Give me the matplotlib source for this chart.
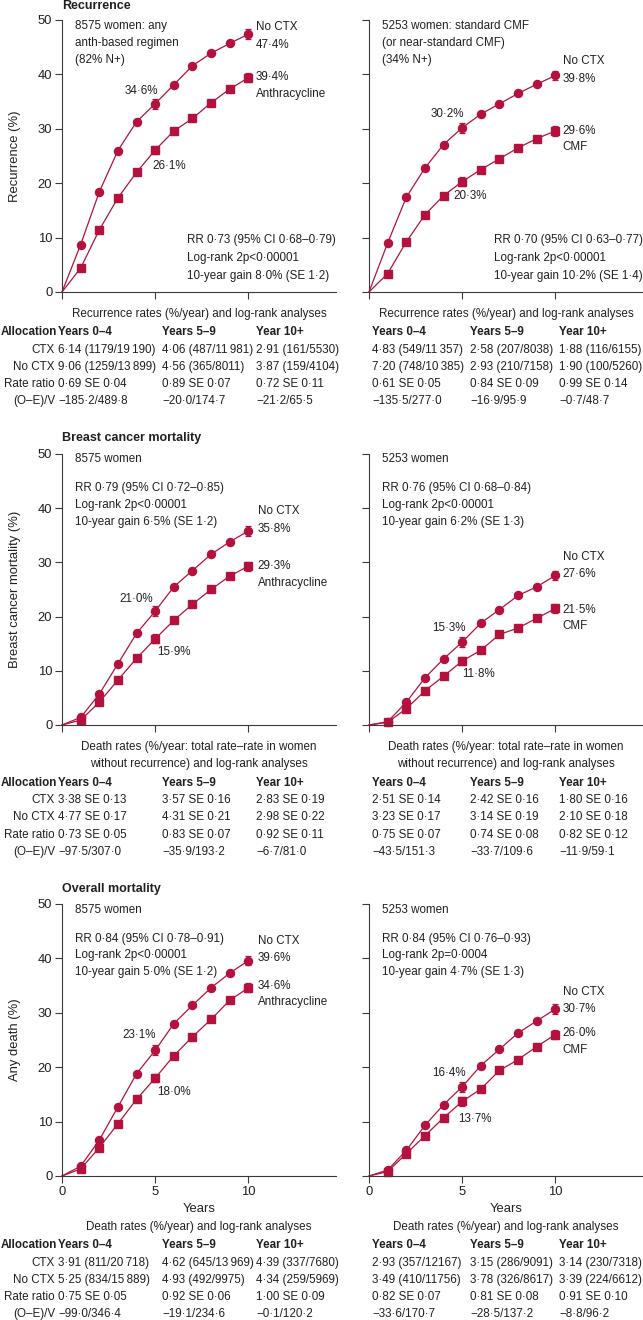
import matplotlib
matplotlib.use("Agg")
import matplotlib.pyplot as plt

plt.rcParams['font.family'] = ['Liberation Sans', 'DejaVu Sans']

RED = '#b3123e'
INK = '#231f20'
FS = 8.4

W, H = 643, 1320

years = list(range(11))
err_years = [5, 10]

# recurrence
rec_anth_noctx = [0, 8.7, 18.4, 26.0, 31.3, 34.6, 38.1, 41.6, 43.9, 45.7, 47.4]
rec_anth_ctx = [0, 4.4, 11.4, 17.3, 22.0, 26.1, 29.6, 31.9, 34.8, 37.3, 39.4]
rec_cmf_noctx = [0, 9.0, 17.4, 22.8, 27.1, 30.2, 32.7, 34.6, 36.5, 38.2, 39.8]
rec_cmf_ctx = [0, 3.4, 9.2, 14.2, 17.7, 20.3, 22.5, 24.5, 26.5, 28.2, 29.6]
# breast cancer mortality
bcm_anth_noctx = [0, 1.4, 5.7, 11.3, 16.9, 21.0, 25.5, 28.5, 31.5, 33.8, 35.8]
bcm_anth_ctx = [0, 0.9, 4.2, 8.3, 12.3, 15.9, 19.3, 22.3, 25.0, 27.5, 29.3]
bcm_cmf_noctx = [0, 0.6, 4.2, 8.7, 12.2, 15.3, 18.8, 21.3, 23.9, 25.5, 27.6]
bcm_cmf_ctx = [0, 0.5, 3.0, 6.3, 9.0, 11.8, 13.8, 16.7, 17.9, 19.7, 21.5]
# overall mortality
om_anth_noctx = [0, 1.8, 6.6, 12.7, 18.8, 23.1, 28.0, 31.4, 34.6, 37.3, 39.6]
om_anth_ctx = [0, 1.3, 5.2, 9.6, 14.1, 18.0, 22.1, 25.6, 28.8, 32.3, 34.6]
om_cmf_noctx = [0, 1.1, 4.7, 9.3, 13.1, 16.4, 20.3, 23.3, 26.3, 28.5, 30.7]
om_cmf_ctx = [0, 0.8, 4.1, 7.4, 10.7, 13.7, 16.0, 19.4, 21.4, 23.8, 26.0]

# standard errors at years 5 and 10
se_noctx = [0.9, 0.9]
se_ctx = [0.8, 0.85]

col_heads = ["Years 0–4", "Years 5–9", "Year 10+"]
row_heads = ["CTX", "No CTX", "Rate ratio", "(O–E)/V"]

rec_anth_rows = [
    ["6·14 (1179/19\u2009190)", "4·06 (487/11\u2009981)", "2·91 (161/5530)"],
    ["9·06 (1259/13\u2009899)", "4·56 (365/8011)", "3·87 (159/4104)"],
    ["0·69 SE 0·04", "0·89 SE 0·07", "0·72 SE 0·11"],
    ["−185·2/489·8", "−20·0/174·7", "−21·2/65·5"],
]
rec_cmf_rows = [
    ["4·83 (549/11\u2009357)", "2·58 (207/8038)", "1·88 (116/6155)"],
    ["7·20 (748/10\u2009385)", "2·93 (210/7158)", "1·90 (100/5260)"],
    ["0·61 SE 0·05", "0·84 SE 0·09", "0·99 SE 0·14"],
    ["−135·5/277·0", "−16·9/95·9", "−0·7/48·7"],
]
bcm_anth_rows = [
    ["3·38 SE 0·13", "3·57 SE 0·16", "2·83 SE 0·19"],
    ["4·77 SE 0·17", "4·31 SE 0·21", "2·98 SE 0·22"],
    ["0·73 SE 0·05", "0·83 SE 0·07", "0·92 SE 0·11"],
    ["−97·5/307·0", "−35·9/193·2", "−6·7/81·0"],
]
bcm_cmf_rows = [
    ["2·51 SE 0·14", "2·42 SE 0·16", "1·80 SE 0·16"],
    ["3·23 SE 0·17", "3·14 SE 0·19", "2·10 SE 0·18"],
    ["0·75 SE 0·07", "0·74 SE 0·08", "0·82 SE 0·12"],
    ["−43·5/151·3", "−33·7/109·6", "−11·9/59·1"],
]
om_anth_rows = [
    ["3·91 (811/20\u2009718)", "4·62 (645/13\u2009969)", "4·39 (337/7680)"],
    ["5·25 (834/15\u2009889)", "4·93 (492/9975)", "4·34 (259/5969)"],
    ["0·75 SE 0·05", "0·92 SE 0·06", "1·00 SE 0·09"],
    ["−99·0/346·4", "−19·1/234·6", "−0·1/120·2"],
]
om_cmf_rows = [
    ["2·93 (357/12167)", "3·15 (286/9091)", "3·14 (230/7318)"],
    ["3·49 (410/11756)", "3·78 (326/8617)", "3·39 (224/6612)"],
    ["0·82 SE 0·07", "0·81 SE 0·08", "0·91 SE 0·10"],
    ["−33·6/170·7", "−28·5/137·2", "−8·8/96·2"],
]


def fx(px):
    return px / W


def fy(py):
    return 1 - py / H


def make_axes(fig, x0, y0, y50):
    ax = fig.add_axes([fx(x0), fy(y0), 274 / W, (y0 - y50) / H])
    ax.set_xlim(0, 14.7)
    ax.set_ylim(0, 50)
    for s in ['top', 'right']:
        ax.spines[s].set_visible(False)
    for s in ['left', 'bottom']:
        ax.spines[s].set_color('#3a3a3a')
        ax.spines[s].set_linewidth(0.8)
    ax.spines['left'].set_bounds(0, 50)
    ax.set_xticks([0, 5, 10])
    ax.set_yticks([0, 10, 20, 30, 40, 50])
    ax.tick_params(direction='out', length=5, width=0.8, color='#3a3a3a',
                   labelsize=FS + 1, labelcolor=INK, pad=2)
    ax.patch.set_alpha(0)
    return ax


def draw_curves(ax, noctx, ctx):
    ax.plot(years, noctx, color=RED, lw=0.9, marker='o', ms=5.8,
            markevery=list(range(1, 11)), clip_on=False)
    ax.plot(years, ctx, color=RED, lw=0.9, marker='s', ms=5.2,
            markevery=list(range(1, 11)), clip_on=False)
    ax.errorbar(err_years, [noctx[5], noctx[10]], yerr=se_noctx, fmt='none',
                ecolor=RED, elinewidth=0.9, capsize=2, capthick=0.9)
    ax.errorbar(err_years, [ctx[5], ctx[10]], yerr=se_ctx, fmt='none',
                ecolor=RED, elinewidth=0.9, capsize=2, capthick=0.9)


def txt(ax, x, y, s, **kw):
    ax.text(x, y, s, fontsize=FS, color=INK, va='center', **kw)


def draw_table(fig, y_rows, cols, rows, labels):
    for j, head in enumerate(col_heads):
        fig.text(fx(cols[j]), fy(y_rows[0]), head, fontsize=FS, color=INK,
                 fontweight='bold', va='center', ha='left')
    if labels:
        fig.text(fx(1), fy(y_rows[0]), "Allocation", fontsize=FS, color=INK,
                 fontweight='bold', va='center', ha='left')
    for i, row in enumerate(rows):
        if labels:
            fig.text(fx(55), fy(y_rows[i + 1]), row_heads[i], fontsize=FS,
                     color=INK, va='center', ha='right')
        for j, cell in enumerate(row):
            fig.text(fx(cols[j]), fy(y_rows[i + 1]), cell, fontsize=FS,
                     color=INK, va='center', ha='left')


fig = plt.figure(figsize=(W / 100, H / 100), dpi=100)

LX, RX = 62, 369
left_cols = [58, 162, 256]
right_cols = [372, 470, 559]

# ---------------- Recurrence ----------------
fig.text(fx(62), fy(6), "Recurrence", fontsize=FS + 0.6, fontweight='bold',
         color=INK, va='center')
ax1 = make_axes(fig, LX, 292, 20)
ax2 = make_axes(fig, RX, 292, 20)
draw_curves(ax1, rec_anth_noctx, rec_anth_ctx)
draw_curves(ax2, rec_cmf_noctx, rec_cmf_ctx)
for ax in (ax1, ax2):
    ax.set_xticklabels([])
ax2.set_yticklabels([])
ax1.set_ylabel("Recurrence (%)", fontsize=FS + 1, color=INK)
ax1.yaxis.set_label_coords((21 - LX) / 274, 0.5)

for k, line in enumerate(["8575 women: any", "anth-based regimen", "(82% N+)"]):
    txt(ax1, 0.7, 48.9 - 3.1 * k, line, ha='left')
for k, line in enumerate(["5253 women: standard CMF", "(or near-standard CMF)", "(34% N+)"]):
    txt(ax2, 0.7, 48.9 - 3.1 * k, line, ha='left')
for ax, lines in ((ax1, ["RR 0·73 (95% CI 0·68–0·79)", "Log-rank 2p<0·00001",
                         "10-year gain 8·0% (SE 1·2)"]),
                  (ax2, ["RR 0·70 (95% CI 0·63–0·77)", "Log-rank 2p<0·00001",
                         "10-year gain 10·2% (SE 1·4)"])):
    for k, line in enumerate(lines):
        txt(ax, 6.7, 9.6 - 3.3 * k, line, ha='left')
txt(ax1, 10.4, 48.7, "No CTX", ha='left')
txt(ax1, 10.4, 45.4, "47·4%", ha='left')
txt(ax1, 10.4, 39.5, "39·4%", ha='left')
txt(ax1, 10.4, 36.4, "Anthracycline", ha='left')
txt(ax1, 4.25, 37.0, "34·6%", ha='center')
txt(ax1, 5.75, 23.2, "26·1%", ha='center')
txt(ax2, 10.4, 42.5, "No CTX", ha='left')
txt(ax2, 10.4, 39.2, "39·8%", ha='left')
txt(ax2, 10.4, 29.6, "29·6%", ha='left')
txt(ax2, 10.4, 26.7, "CMF", ha='left')
txt(ax2, 4.2, 32.7, "30·2%", ha='center')
txt(ax2, 5.4, 17.7, "20·3%", ha='center')

for cx in (199, 506):
    fig.text(fx(cx), fy(314), "Recurrence rates (%/year) and log-rank analyses",
             fontsize=FS, color=INK, ha='center', va='center')
rows_y = [332, 350, 367, 384, 401]
draw_table(fig, rows_y, left_cols, rec_anth_rows, True)
draw_table(fig, rows_y, right_cols, rec_cmf_rows, False)

# ---------------- Breast cancer mortality ----------------
fig.text(fx(62), fy(438), "Breast cancer mortality", fontsize=FS + 0.6,
         fontweight='bold', color=INK, va='center')
ax3 = make_axes(fig, LX, 725, 454)
ax4 = make_axes(fig, RX, 725, 454)
draw_curves(ax3, bcm_anth_noctx, bcm_anth_ctx)
draw_curves(ax4, bcm_cmf_noctx, bcm_cmf_ctx)
for ax in (ax3, ax4):
    ax.set_xticklabels([])
ax4.set_yticklabels([])
ax3.set_ylabel("Breast cancer mortality (%)", fontsize=FS + 1, color=INK)
ax3.yaxis.set_label_coords((21 - LX) / 274, 0.5)

txt(ax3, 0.7, 49.1, "8575 women", ha='left')
txt(ax4, 0.7, 49.1, "5253 women", ha='left')
for ax, lines in ((ax3, ["RR 0·79 (95% CI 0·72–0·85)", "Log-rank 2p<0·00001",
                         "10-year gain 6·5% (SE 1·2)"]),
                  (ax4, ["RR 0·76 (95% CI 0·68–0·84)", "Log-rank 2p<0·00001",
                         "10-year gain 6·2% (SE 1·3)"])):
    for k, line in enumerate(lines):
        txt(ax, 0.7, 43.7 - 3.1 * k, line, ha='left')
txt(ax3, 10.5, 39.5, "No CTX", ha='left')
txt(ax3, 10.5, 36.2, "35·8%", ha='left')
txt(ax3, 10.5, 29.3, "29·3%", ha='left')
txt(ax3, 10.5, 26.2, "Anthracycline", ha='left')
txt(ax3, 4.0, 23.2, "21·0%", ha='center')
txt(ax3, 6.0, 13.5, "15·9%", ha='center')
txt(ax4, 10.4, 31.0, "No CTX", ha='left')
txt(ax4, 10.4, 27.9, "27·6%", ha='left')
txt(ax4, 10.4, 21.2, "21·5%", ha='left')
txt(ax4, 10.4, 18.3, "CMF", ha='left')
txt(ax4, 4.3, 17.9, "15·3%", ha='center')
txt(ax4, 5.9, 9.4, "11·8%", ha='center')

for cx in (199, 506):
    fig.text(fx(cx), fy(747), "Death rates (%/year: total rate–rate in women",
             fontsize=FS, color=INK, ha='center', va='center')
    fig.text(fx(cx), fy(764), "without recurrence) and log-rank analyses",
             fontsize=FS, color=INK, ha='center', va='center')
rows_y = [783, 800, 817, 835, 852]
draw_table(fig, rows_y, left_cols, bcm_anth_rows, True)
draw_table(fig, rows_y, right_cols, bcm_cmf_rows, False)

# ---------------- Overall mortality ----------------
fig.text(fx(62), fy(889), "Overall mortality", fontsize=FS + 0.6,
         fontweight='bold', color=INK, va='center')
ax5 = make_axes(fig, LX, 1176, 904)
ax6 = make_axes(fig, RX, 1176, 904)
draw_curves(ax5, om_anth_noctx, om_anth_ctx)
draw_curves(ax6, om_cmf_noctx, om_cmf_ctx)
ax6.set_yticklabels([])
ax5.set_ylabel("Any death (%)", fontsize=FS + 1, color=INK)
ax5.yaxis.set_label_coords((21 - LX) / 274, 0.5)
for ax in (ax5, ax6):
    ax.set_xlabel("Years", fontsize=FS + 1, color=INK, labelpad=4)

txt(ax5, 0.7, 48.9, "8575 women", ha='left')
txt(ax6, 0.7, 48.9, "5253 women", ha='left')
for ax, lines in ((ax5, ["RR 0·84 (95% CI 0·78–0·91)", "Log-rank 2p<0·00001",
                         "10-year gain 5·0% (SE 1·2)"]),
                  (ax6, ["RR 0·84 (95% CI 0·76–0·93)", "Log-rank 2p=0·0004",
                         "10-year gain 4·7% (SE 1·3)"])):
    for k, line in enumerate(lines):
        txt(ax, 0.7, 43.6 - 3.05 * k, line, ha='left')
txt(ax5, 10.5, 43.2, "No CTX", ha='left')
txt(ax5, 10.5, 40.1, "39·6%", ha='left')
txt(ax5, 10.5, 34.9, "34·6%", ha='left')
txt(ax5, 10.5, 32.0, "Anthracycline", ha='left')
txt(ax5, 4.15, 25.9, "23·1%", ha='center')
txt(ax5, 6.0, 15.4, "18·0%", ha='center')
txt(ax6, 10.4, 33.8, "No CTX", ha='left')
txt(ax6, 10.4, 30.7, "30·7%", ha='left')
txt(ax6, 10.4, 26.3, "26·0%", ha='left')
txt(ax6, 10.4, 23.2, "CMF", ha='left')
txt(ax6, 4.3, 18.9, "16·4%", ha='center')
txt(ax6, 5.7, 10.5, "13·7%", ha='center')

for cx in (199, 506):
    fig.text(fx(cx), fy(1227), "Death rates (%/year) and log-rank analyses",
             fontsize=FS, color=INK, ha='center', va='center')
rows_y = [1245, 1263, 1280, 1297, 1314]
draw_table(fig, rows_y, left_cols, om_anth_rows, True)
draw_table(fig, rows_y, right_cols, om_cmf_rows, False)

fig.savefig("out.png", dpi=100)
